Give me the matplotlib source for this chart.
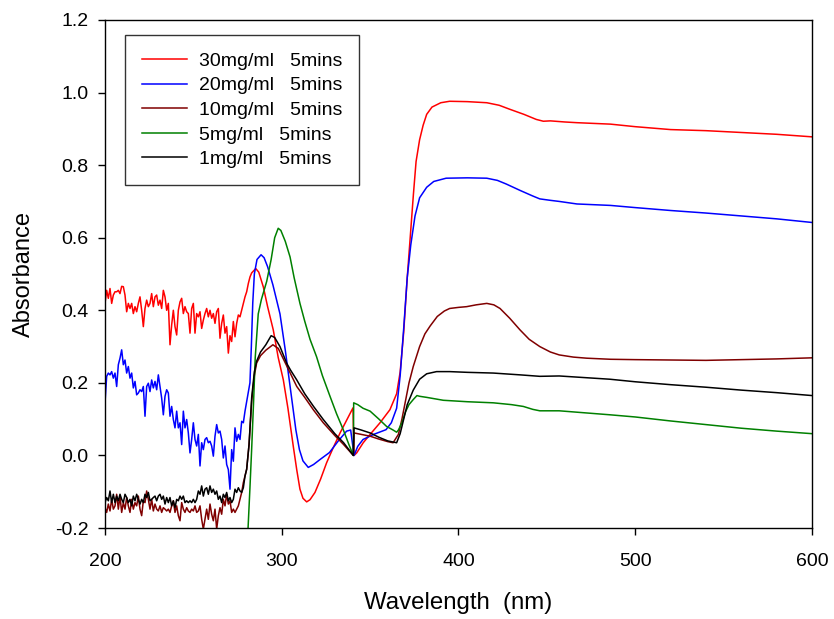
import numpy as np
import matplotlib
matplotlib.use("Agg")
import matplotlib.pyplot as plt
from matplotlib.ticker import FormatStrFormatter

plt.rcParams["font.family"] = ["Liberation Sans", "DejaVu Sans"]
plt.rcParams["axes.unicode_minus"] = False

# ---- data -------------------------------------------------------------
# noisy short-wavelength part, sampled every NOISE_STEP nm from 200 nm
NOISE_START = 200.0
NOISE_STEP = 0.943

red_noise = [
    0.419, 0.455, 0.433, 0.460, 0.419, 0.442, 0.451, 0.451, 0.455, 0.446,
    0.466, 0.465, 0.442, 0.396, 0.419, 0.405, 0.419, 0.391, 0.410, 0.396,
    0.419, 0.437, 0.400, 0.355, 0.405, 0.428, 0.410, 0.419, 0.446, 0.410,
    0.437, 0.442, 0.414, 0.428, 0.405, 0.455, 0.437, 0.400, 0.419, 0.305,
    0.360, 0.400, 0.355, 0.332, 0.400, 0.423, 0.433, 0.391, 0.410, 0.396,
    0.391, 0.337, 0.405,
    0.419, 0.337, 0.391, 0.382, 0.396, 0.350, 0.373, 0.391, 0.405, 0.382,
    0.400, 0.378, 0.391, 0.364, 0.396, 0.405, 0.323, 0.364, 0.387, 0.337,
    0.355, 0.282, 0.330, 0.314, 0.369, 0.327, 0.364, 0.387, 0.382, 0.400,
    0.419, 0.437, 0.451, 0.474, 0.492, 0.503,
]
red_wl = [285.3, 287.0, 289.6, 292.0, 295.2, 298.0, 300.9, 303.5, 306.5, 308.5,
          310.3, 312.0, 314.1, 316.0, 318.8, 322.0, 325.4, 329.0, 333.0, 337.0,
          340.3, 340.9, 342.4, 346.1, 350.0, 355.6, 361.2, 365.0, 367.0, 369.0,
          371.0, 373.0, 374.5, 376.0, 378.0, 380.0, 382.0, 385.0, 390.0, 395.0,
          405.0, 416.0, 423.0, 429.0, 437.0, 444.0, 448.0, 452.0, 460.0, 467.0,
          486.0, 500.0, 520.0, 540.0, 560.0, 580.0, 600.0]
red_abs = [0.515, 0.505, 0.464, 0.410, 0.346, 0.270, 0.208, 0.130, 0.026, -0.040,
           -0.093, -0.118, -0.128, -0.122, -0.102, -0.065, -0.020, 0.020, 0.062, 0.100,
           0.131, 0.000, 0.007, 0.035, 0.058, 0.090, 0.126, 0.170, 0.230, 0.340,
           0.490, 0.620, 0.720, 0.810, 0.870, 0.910, 0.940, 0.960, 0.972, 0.976,
           0.975, 0.972, 0.965, 0.954, 0.940, 0.926, 0.921, 0.922, 0.919, 0.917,
           0.913, 0.906, 0.898, 0.895, 0.890, 0.885, 0.878]

blue_noise = [
    0.145, 0.218, 0.227, 0.222, 0.231, 0.213, 0.227, 0.190, 0.250, 0.268,
    0.291, 0.250, 0.263, 0.227, 0.245, 0.213, 0.227, 0.186, 0.204, 0.167,
    0.172, 0.181, 0.176, 0.190, 0.108, 0.190, 0.199, 0.176, 0.208, 0.186,
    0.204, 0.181, 0.222, 0.190, 0.158, 0.112, 0.163, 0.181, 0.172, 0.108,
    0.135, 0.099, 0.076, 0.122, 0.076, 0.090, 0.030, 0.122, 0.076, 0.099,
    0.062, 0.007, 0.044, 0.090,
    0.044, 0.026, 0.058, -0.029, 0.035, 0.016, 0.044, 0.049, 0.035, 0.039,
    0.026, -0.002, 0.053, 0.085, 0.062, 0.067, 0.044, -0.007, 0.026, -0.025,
    -0.039, -0.093, 0.016, -0.016, 0.076, 0.039, 0.058, 0.044, 0.094, 0.090,
    0.122,
]
blue_wl = [282.0, 282.8, 283.6, 284.5, 286.0, 288.3, 290.0, 292.0, 295.0, 299.0,
           302.0, 305.0, 308.0, 310.0, 312.0, 315.0, 318.0, 322.0, 327.0, 332.0,
           336.7, 339.0, 340.9, 343.0, 346.0, 352.0, 359.0, 362.0, 365.0, 367.0,
           369.0, 371.0, 373.0, 375.4, 378.0, 382.0, 386.0, 393.0, 405.0, 416.0,
           422.0, 427.0, 435.0, 442.0, 446.0, 452.0, 457.0, 467.0, 486.0, 500.0,
           520.0, 540.0, 560.0, 580.0, 600.0]
blue_abs = [0.200, 0.300, 0.420, 0.500, 0.540, 0.553, 0.545, 0.520, 0.470, 0.390,
            0.290, 0.180, 0.070, 0.016, -0.015, -0.033, -0.025, -0.010, 0.008, 0.040,
            0.067, 0.070, 0.000, 0.025, 0.044, 0.058, 0.071, 0.090, 0.130, 0.220,
            0.350, 0.490, 0.580, 0.660, 0.710, 0.739, 0.755, 0.764, 0.765, 0.764,
            0.758, 0.748, 0.730, 0.715, 0.707, 0.703, 0.700, 0.693, 0.689, 0.683,
            0.675, 0.668, 0.660, 0.652, 0.642]

brown_noise = [
    -0.144, -0.157, -0.134, -0.153, -0.121, -0.148, -0.139, -0.107, -0.148, -0.112,
    -0.157, -0.130, -0.148, -0.116, -0.139, -0.157, -0.121, -0.148, -0.130, -0.139,
    -0.112, -0.148, -0.166, -0.125, -0.130, -0.098, -0.121, -0.148, -0.121, -0.153,
    -0.134, -0.148, -0.153, -0.139, -0.157, -0.144, -0.148, -0.153, -0.148, -0.157,
    -0.139, -0.125, -0.157, -0.139, -0.166, -0.180, -0.130, -0.148, -0.157, -0.144,
    -0.153, -0.157, -0.148,
    -0.153, -0.139, -0.157, -0.153, -0.139, -0.176, -0.203, -0.176, -0.148, -0.176,
    -0.134, -0.162, -0.180, -0.148, -0.203, -0.166, -0.144, -0.162, -0.121, -0.139,
    -0.107, -0.134, -0.125, -0.157, -0.148, -0.157, -0.148, -0.139, -0.121, -0.102,
    -0.075, -0.057, -0.038,
]
brown_wl = [281.5, 283.0, 284.5, 285.8, 288.0, 291.0, 295.0, 298.0, 302.0, 305.0,
            308.5, 313.0, 318.0, 323.5, 330.0, 335.0, 340.5, 340.9, 345.0, 350.0,
            355.0, 360.0, 363.0, 366.0, 368.0, 370.0, 372.0, 374.4, 378.0, 381.0,
            384.0, 388.0, 392.0, 395.0, 400.0, 404.6, 410.0, 416.0, 420.0, 423.5,
            429.0, 434.8, 440.0, 446.0, 452.0, 457.0, 465.0, 472.5, 486.0, 500.0,
            520.0, 540.0, 560.0, 580.0, 600.0]
brown_abs = [0.030, 0.150, 0.220, 0.255, 0.275, 0.290, 0.305, 0.295, 0.255, 0.225,
             0.190, 0.160, 0.125, 0.090, 0.055, 0.030, 0.000, 0.062, 0.058, 0.053,
             0.045, 0.038, 0.035, 0.058, 0.100, 0.150, 0.200, 0.245, 0.300, 0.335,
             0.357, 0.383, 0.398, 0.405, 0.408, 0.410, 0.415, 0.419, 0.415, 0.405,
             0.378, 0.346, 0.320, 0.300, 0.285, 0.277, 0.271, 0.268, 0.265, 0.264,
             0.263, 0.262, 0.264, 0.266, 0.269]

black_noise = [
    -0.130, -0.116, -0.125, -0.098, -0.130, -0.107, -0.130, -0.112, -0.125, -0.107,
    -0.121, -0.130, -0.107, -0.116, -0.130, -0.121, -0.139, -0.112, -0.125, -0.107,
    -0.121, -0.134, -0.121, -0.130, -0.107, -0.116, -0.102, -0.125, -0.121, -0.116,
    -0.112, -0.125, -0.112, -0.107, -0.121, -0.112, -0.134, -0.116, -0.130, -0.116,
    -0.139, -0.125, -0.144, -0.121, -0.125, -0.112, -0.121, -0.112, -0.130, -0.125,
    -0.130, -0.125, -0.130,
    -0.121, -0.130, -0.121, -0.098, -0.107, -0.084, -0.112, -0.093, -0.089, -0.107,
    -0.084, -0.102, -0.093, -0.107, -0.098, -0.121, -0.112, -0.130, -0.107, -0.116,
    -0.102, -0.125, -0.116, -0.130, -0.121, -0.093, -0.102, -0.089, -0.098, -0.102,
    -0.089, -0.057, -0.038,
]
black_wl = [281.5, 283.0, 284.5, 285.8, 288.0, 291.0, 294.0, 296.0, 299.0, 302.8,
            305.0, 308.5, 313.0, 318.0, 323.5, 330.0, 335.0, 340.5, 340.9, 345.0,
            350.0, 355.0, 360.0, 365.0, 367.0, 369.0, 371.0, 374.4, 378.0, 382.0,
            387.6, 395.0, 405.0, 419.7, 435.0, 446.0, 457.0, 470.0, 485.7, 500.0,
            520.0, 540.0, 560.0, 580.0, 600.0]
black_abs = [0.030, 0.160, 0.230, 0.260, 0.285, 0.305, 0.330, 0.325, 0.300, 0.254,
             0.235, 0.208, 0.170, 0.135, 0.099, 0.060, 0.035, 0.000, 0.076, 0.070,
             0.062, 0.050, 0.040, 0.035, 0.060, 0.100, 0.140, 0.180, 0.210, 0.225,
             0.231, 0.231, 0.229, 0.227, 0.222, 0.218, 0.219, 0.215, 0.210, 0.203,
             0.195, 0.188, 0.180, 0.173, 0.165]

green_wl = [280.5, 281.0, 282.0, 283.0, 284.0, 285.0, 286.7, 288.5, 291.5, 294.0,
            296.0, 298.0, 299.5, 302.0, 304.7, 307.0, 310.3, 313.0, 316.0, 319.7,
            323.0, 327.3, 331.0, 334.8, 338.0, 340.5, 340.7, 343.0, 346.0, 350.0,
            355.0, 359.3, 363.0, 365.0, 366.0, 368.0, 370.0, 372.0, 374.4, 376.5,
            378.0, 382.0, 391.4, 405.0, 419.7, 430.0, 436.7, 442.0, 446.0, 457.0,
            470.0, 485.7, 500.0, 520.0, 540.0, 560.0, 580.0, 600.0]
green_abs = [-0.250, -0.194, -0.090, 0.020, 0.140, 0.270, 0.390, 0.430, 0.480, 0.540,
             0.600, 0.626, 0.620, 0.590, 0.547, 0.490, 0.419, 0.370, 0.320, 0.272,
             0.220, 0.163, 0.115, 0.071, 0.030, 0.000, 0.145, 0.140, 0.130, 0.122,
             0.100, 0.080, 0.070, 0.064, 0.070, 0.090, 0.120, 0.140, 0.154, 0.165,
             0.163, 0.160, 0.152, 0.148, 0.145, 0.140, 0.135, 0.127, 0.123, 0.123,
             0.118, 0.112, 0.106, 0.095, 0.085, 0.075, 0.067, 0.060]

labels = ["30mg/ml   5mins", "20mg/ml   5mins", "10mg/ml   5mins",
          "5mg/ml   5mins", "1mg/ml   5mins"]
colors = ["#ff0000", "#0000ff", "#800000", "#008000", "#000000"]

x_ticks = [200, 300, 400, 500, 600]
y_ticks = [-0.2, 0.0, 0.2, 0.4, 0.6, 0.8, 1.0, 1.2]


def join(noise, wl, ab):
    nw = NOISE_START + NOISE_STEP * np.arange(len(noise))
    return np.concatenate([nw, wl]), np.concatenate([noise, ab])


series = [
    join(red_noise, red_wl, red_abs),
    join(blue_noise, blue_wl, blue_abs),
    join(brown_noise, brown_wl, brown_abs),
    (np.array(green_wl), np.array(green_abs)),
    join(black_noise, black_wl, black_abs),
]

# ---- figure -----------------------------------------------------------
fig = plt.figure(figsize=(8.34, 6.19), dpi=100)
ax = fig.add_axes([0.1259, 0.147, 0.8477, 0.8207])

for (x, y), c, lab in zip(series, colors, labels):
    ax.plot(x, y, color=c, lw=1.1, label=lab)

ax.set_xlim(200, 600)
ax.set_ylim(-0.2, 1.2)
ax.set_xticks(x_ticks)
ax.set_yticks(y_ticks)
ax.yaxis.set_major_formatter(FormatStrFormatter("%.1f"))
ax.tick_params(direction="out", length=5, width=1, labelsize=14,
               top=False, right=False)
ax.tick_params(axis="y", pad=7)
ax.tick_params(axis="x", pad=13)
for s in ax.spines.values():
    s.set_linewidth(1.0)

ax.set_xlabel("Wavelength  (nm)", fontsize=17.3, labelpad=16)
ax.set_ylabel("Absorbance", fontsize=17, labelpad=14)

leg = ax.legend(loc="upper left", bbox_to_anchor=(0.0283, 0.9705),
                borderaxespad=0, fontsize=14, frameon=True, fancybox=False,
                handlelength=2.3, handletextpad=0.62, labelspacing=0.36,
                borderpad=0.88)
leg.get_frame().set_edgecolor("black")
leg.get_frame().set_linewidth(1.0)

fig.savefig("out.png", dpi=100)
